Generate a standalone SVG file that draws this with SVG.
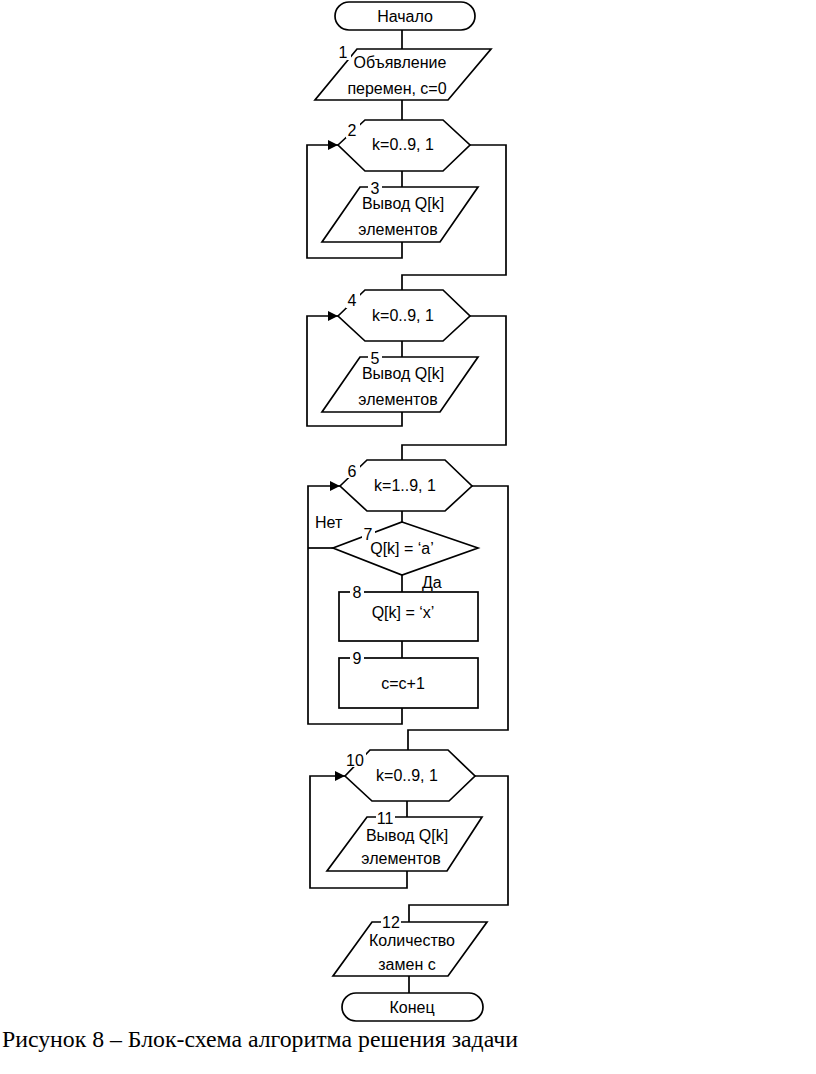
<svg xmlns="http://www.w3.org/2000/svg" width="816" height="1074" viewBox="0 0 816 1074">
<style>
.s{fill:#fff;stroke:#000;stroke-width:1.7}
.c{fill:none;stroke:#000;stroke-width:1.7}
.t{font-family:"Liberation Sans",Arial,sans-serif;font-size:16px;text-anchor:middle;fill:#000}
.l{font-family:"Liberation Sans",Arial,sans-serif;font-size:16px;fill:#000}
.bg{fill:#fff;stroke:none}
.cap{font-family:"Liberation Serif","Times New Roman",serif;font-size:24px;fill:#000}
</style>
<defs>
<marker id="ar" markerUnits="userSpaceOnUse" markerWidth="12" markerHeight="10" refX="10" refY="5" orient="auto">
<path d="M0,0 L10,5 L0,10 Z" fill="#000"/>
</marker>
</defs>
<g id="connectors">
<path class="c" d="M402,30 V49"/>
<path class="c" d="M402,100 V120"/>
<path class="c" d="M402,171 V187"/>
<path class="c" d="M402,242 V258 H307 V145 H338" marker-end="url(#ar)"/>
<path class="c" d="M470,145 H506 V275 H402 V290"/>
<path class="c" d="M402,341 V357"/>
<path class="c" d="M402,412 V426 H307 V316 H338" marker-end="url(#ar)"/>
<path class="c" d="M470,316 H506 V445 H402 V460"/>
<path class="c" d="M402,511 V522"/>
<path class="c" d="M333,548 H308"/>
<path class="c" d="M402,575 V592"/>
<path class="c" d="M402,641 V658"/>
<path class="c" d="M402,708 V724 H308 V486 H340" marker-end="url(#ar)"/>
<path class="c" d="M472,486 H508 V730 H408 V750"/>
<path class="c" d="M407,801 V817"/>
<path class="c" d="M407,871 V888 H310 V776 H345" marker-end="url(#ar)"/>
<path class="c" d="M475,776 H508 V905 H409 V922"/>
<path class="c" d="M409,976 V993"/>
</g>
<g id="start">
<rect class="s" x="335" y="2" width="140" height="28" rx="14"/>
<text class="t" x="405" y="22">Начало</text>
</g>
<g id="n1">
<polygon class="s" points="357,49 491,49 448,100 315,100"/>
<rect class="bg" x="337" y="44" width="14" height="16"/>
<text class="t" x="343" y="58">1</text>
<text class="t" x="400" y="68">Объявление</text>
<text class="t" x="397" y="94">перемен, с=0</text>
</g>
<g id="n2">
<polygon class="s" points="338,145 365,120 443,120 470,145 443,171 365,171"/>
<rect class="bg" x="346" y="122" width="14" height="16"/>
<text class="t" x="352" y="136">2</text>
<text class="t" x="403" y="150">k=0..9, 1</text>
</g>
<g id="n3">
<polygon class="s" points="360,187 478,187 440,242 322,242"/>
<rect class="bg" x="368" y="180" width="14" height="14"/>
<text class="t" x="375" y="194">3</text>
<text class="t" x="403" y="209">Вывод Q[k]</text>
<text class="t" x="398" y="235">элементов</text>
</g>
<g id="n4">
<polygon class="s" points="338,316 365,290 443,290 470,316 443,341 365,341"/>
<rect class="bg" x="346" y="292" width="14" height="16"/>
<text class="t" x="352" y="306">4</text>
<text class="t" x="403" y="321">k=0..9, 1</text>
</g>
<g id="n5">
<polygon class="s" points="360,357 478,357 440,412 322,412"/>
<rect class="bg" x="368" y="350" width="14" height="14"/>
<text class="t" x="375" y="364">5</text>
<text class="t" x="403" y="379">Вывод Q[k]</text>
<text class="t" x="398" y="405">элементов</text>
</g>
<g id="n6">
<polygon class="s" points="340,486 367,460 445,460 472,486 445,511 367,511"/>
<rect class="bg" x="346" y="462" width="14" height="16"/>
<text class="t" x="352" y="477">6</text>
<text class="t" x="405" y="491">k=1..9, 1</text>
</g>
<g id="n7">
<polygon class="s" points="402,522 478,548 402,575 333,548"/>
<rect class="bg" x="362" y="526" width="13" height="15"/>
<text class="t" x="368" y="540">7</text>
<text class="t" x="402" y="554">Q[k] = ‘a’</text>
<text class="l" x="315" y="528">Нет</text>
<text class="l" x="422" y="588">Да</text>
</g>
<g id="n8">
<rect class="s" x="339" y="592" width="139" height="49"/>
<rect class="bg" x="350" y="585" width="14" height="14"/>
<text class="t" x="357" y="598">8</text>
<text class="t" x="403" y="618">Q[k] = ‘x’</text>
</g>
<g id="n9">
<rect class="s" x="339" y="658" width="139" height="50"/>
<rect class="bg" x="350" y="651" width="14" height="14"/>
<text class="t" x="357" y="664">9</text>
<text class="t" x="403" y="689">c=c+1</text>
</g>
<g id="n10">
<polygon class="s" points="345,776 370,750 448,750 475,776 449,801 372,801"/>
<rect class="bg" x="345" y="752" width="21" height="15"/>
<text class="t" x="355" y="766">10</text>
<text class="t" x="407" y="781">k=0..9, 1</text>
</g>
<g id="n11">
<polygon class="s" points="367,817 482,817 447,871 327,871"/>
<rect class="bg" x="376" y="810" width="19" height="14"/>
<text class="t" x="385" y="824">11</text>
<text class="t" x="407" y="841">Вывод Q[k]</text>
<text class="t" x="401" y="864">элементов</text>
</g>
<g id="n12">
<polygon class="s" points="372,922 487,922 448,976 333,976"/>
<rect class="bg" x="381" y="915" width="20" height="14"/>
<text class="t" x="391" y="928">12</text>
<text class="t" x="412" y="946">Количество</text>
<text class="t" x="407" y="970">замен с</text>
</g>
<g id="end">
<rect class="s" x="342" y="993" width="141" height="28" rx="14"/>
<text class="t" x="412" y="1013">Конец</text>
</g>
<text class="cap" x="2" y="1047" textLength="516" lengthAdjust="spacingAndGlyphs">Рисунок 8 – Блок-схема алгоритма решения задачи</text>
</svg>
